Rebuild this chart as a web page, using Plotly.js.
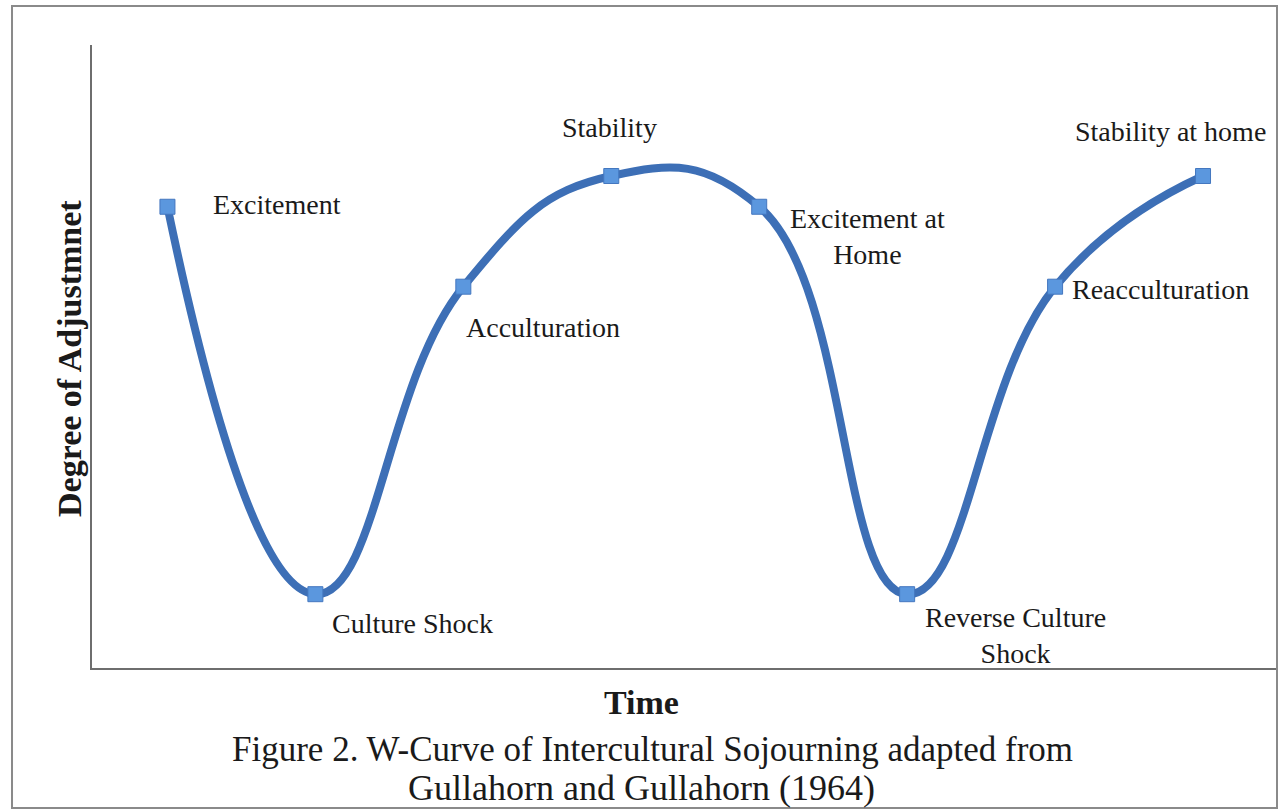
<!DOCTYPE html>
<html>
<head>
<meta charset="utf-8">
<script src="https://cdn.plot.ly/plotly-3.0.1.min.js"></script>
<style>html,body{margin:0;padding:0;background:#fff;}#chart{width:1281px;height:812px;}</style>
</head>
<body>
<div id="chart"></div>
<script>
// Data
const stages = ["Excitement", "Culture Shock", "Acculturation", "Stability", "Excitement at<br>Home", "Reverse Culture<br>Shock", "Reacculturation", "Stability at home"];
const timeSteps = [1, 2, 3, 4, 5, 6, 7, 8];
const adjustment = [7.5, 1.2, 6.2, 8.0, 7.5, 1.2, 6.2, 8.0];
const xTitle = "Time";
const yTitle = "Degree of Adjustmnet";
const captionLines = ["Figure 2. W-Curve of Intercultural Sojourning adapted from", "Gullahorn and Gullahorn (1964)"];

// label offsets (px) relative to each point
const labelShiftX = [110, 97, 80, -2, 108, 108, 105, -33];
const labelShiftY = [2, -29, -41, 49, -30, -41, -3, 45];

const serif = "Liberation Serif, Times New Roman, serif";

const trace = {
  x: timeSteps,
  y: adjustment,
  type: "scatter",
  mode: "lines+markers",
  line: {shape: "spline", smoothing: 1.3, color: "#3d6fb6", width: 8},
  marker: {symbol: "square", size: 15, color: "#5b97de", line: {color: "#4477bf", width: 1}},
  hoverinfo: "skip",
  showlegend: false
};

const annotations = stages.map((s, i) => ({
  x: timeSteps[i], y: adjustment[i], xref: "x", yref: "y",
  text: s, showarrow: false, xshift: labelShiftX[i], yshift: labelShiftY[i],
  font: {family: serif, size: 28, color: "#1a1a1a"}, align: "center"
}));

const captionX = [0.473, 0.464];
const captionY = [-0.131, -0.192];
const captionSize = [35, 36];
captionLines.forEach((t, i) => {
  annotations.push({
    x: captionX[i], y: captionY[i], xref: "paper", yref: "paper",
    text: t, showarrow: false, xanchor: "center", yanchor: "middle",
    font: {family: serif, size: captionSize[i], color: "#1a1a1a"}
  });
});

annotations.push({
  x: 0.4633, y: -0.0546, xref: "paper", yref: "paper",
  text: "<b>" + xTitle + "</b>", showarrow: false, xanchor: "center", yanchor: "middle",
  font: {family: serif, size: 34, color: "#1a1a1a"}
});
annotations.push({
  x: -0.0186, y: 0.4976, xref: "paper", yref: "paper",
  text: "<b>" + yTitle + "</b>", showarrow: false, xanchor: "center", yanchor: "middle",
  textangle: -90,
  font: {family: serif, size: 34, color: "#1a1a1a"}
});

const layout = {
  width: 1281, height: 812,
  margin: {l: 92, r: 4, t: 45, b: 144},
  paper_bgcolor: "#ffffff", plot_bgcolor: "#ffffff",
  xaxis: {
    range: [0.49, 8.5], showgrid: false, zeroline: false,
    showline: true, linecolor: "#6e6e6e", linewidth: 2,
    showticklabels: false, ticks: ""
  },
  yaxis: {
    range: [0, 10.13], showgrid: false, zeroline: false,
    showline: true, linecolor: "#6e6e6e", linewidth: 2,
    showticklabels: false, ticks: ""
  },
  shapes: [{
    type: "rect", xref: "paper", yref: "paper",
    x0: -0.0675, x1: 1.0, y0: -0.2247, y1: 1.0626,
    line: {color: "#8a8a8a", width: 2}, fillcolor: "rgba(0,0,0,0)"
  }],
  annotations: annotations
};

Plotly.newPlot("chart", [trace], layout, {displayModeBar: false, staticPlot: true});
</script>
</body>
</html>
